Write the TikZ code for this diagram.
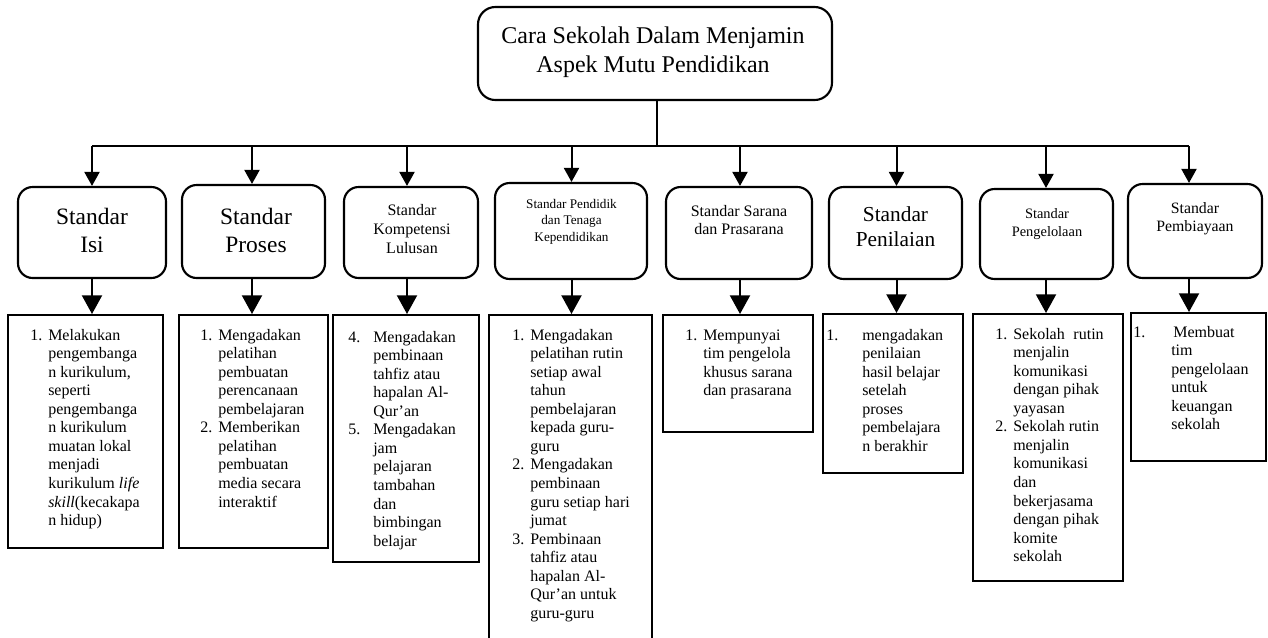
\documentclass[tikz,border=0pt]{standalone}
\usepackage{fontspec}
\setmainfont{Liberation Serif}
\usetikzlibrary{arrows.meta,fit}
\tikzset{
  rbox/.style={draw, line width=1.6pt, rounded corners=11pt, inner sep=0pt},
  lbox/.style={draw, line width=1.5pt, inner sep=0pt},
  conn/.style={line width=1.5pt},
  arrA/.style={conn, -{Triangle[width=11.25pt,length=10.5pt]}},
  arrB/.style={conn, -{Triangle[width=15pt,length=14pt]}},
  body/.style={anchor=base west, inner sep=0pt, font=\fontsize{12}{13.92}\selectfont},
  head/.style={anchor=base, inner sep=0pt},
}
\newcommand{\lst}[2]{\begin{tabular}[t]{@{}p{#1}@{}l@{}}#2\end{tabular}}
\newcommand{\ctr}[1]{\begin{tabular}[t]{@{}c@{}}#1\end{tabular}}
\begin{document}
\begin{tikzpicture}[x=0.75pt,y=-0.75pt]
\useasboundingbox (0,0) rectangle (1268,637);
% top
\node[rbox, rounded corners=13pt, fit={(478,7)(832,100)}] (top) {};
\node[head, font=\fontsize{18}{21.75}\selectfont] (toptxt) at (653,43) {\ctr{Cara Sekolah Dalam Menjamin\\Aspek Mutu Pendidikan}};
% level 1
\node[rbox, fit={(18,187)(166,278)}] (isi) {};
\node[rbox, fit={(182,185)(325,278)}] (proses) {};
\node[rbox, fit={(344,187)(478,278)}] (komp) {};
\node[rbox, fit={(495,183)(647,279)}] (pend) {};
\node[rbox, fit={(666,187)(812,279)}] (sarana) {};
\node[rbox, fit={(829,187)(962,279)}] (nilai) {};
\node[rbox, fit={(980,189)(1113,279)}] (kelola) {};
\node[rbox, fit={(1128,184)(1262,278)}] (biaya) {};
\node[head, font=\fontsize{17.6}{21}\selectfont] (isit) at (92,224) {\ctr{Standar\\Isi}};
\node[head, font=\fontsize{17.6}{21}\selectfont] (prosest) at (256,224) {\ctr{Standar\\Proses}};
\node[head, font=\fontsize{12}{14.25}\selectfont] (kompt) at (412,215) {\ctr{Standar\\Kompetensi\\Lulusan}};
\node[head, font=\fontsize{9.9}{12.4}\selectfont] (pendt) at (571.5,208) {\ctr{Standar Pendidik\\dan Tenaga\\Kependidikan}};
\node[head, font=\fontsize{12}{13.5}\selectfont] (saranat) at (739,216) {\ctr{Standar Sarana\\dan Prasarana}};
\node[head, font=\fontsize{16}{18.75}\selectfont] (nilait) at (895.5,221) {\ctr{Standar\\Penilaian}};
\node[head, font=\fontsize{10.8}{13.5}\selectfont] (kelolat) at (1047,218) {\ctr{Standar\\Pengelolaan}};
\node[head, font=\fontsize{11.85}{13.5}\selectfont] (biayat) at (1195,213) {\ctr{Standar\\Pembiayaan}};
% level 2
\node[lbox, fit={(8,315)(163,548)}] (isiL) {};
\node[lbox, fit={(179,315)(328,548)}] (prosesL) {};
\node[lbox, fit={(333,315)(479,562)}] (kompL) {};
\node[lbox, fit={(489,315)(652,645)}] (pendL) {};
\node[lbox, fit={(663,315)(813,432)}] (saranaL) {};
\node[lbox, fit={(823,314)(963,473)}] (nilaiL) {};
\node[lbox, fit={(973,314)(1123,581)}] (kelolaL) {};
\node[lbox, fit={(1131,313)(1266,461)}] (biayaL) {};
\node[body] (isiLt) at (30,340) {\lst{13.5pt}{1. & Melakukan\\ & pengembanga\\ & n kurikulum,\\ & seperti\\ & pengembanga\\ & n kurikulum\\ & muatan lokal\\ & menjadi\\ & kurikulum \textit{life}\\ & \textit{skill}(kecakapa\\ & n hidup)}};
\node[body] (prosesLt) at (200,340) {\lst{13.5pt}{1. & Mengadakan\\ & pelatihan\\ & pembuatan\\ & perencanaan\\ & pembelajaran\\ 2. & Memberikan\\ & pelatihan\\ & pembuatan\\ & media secara\\ & interaktif}};
\node[body] (kompLt) at (348,342) {\lst{18.75pt}{4. & Mengadakan\\ & pembinaan\\ & tahfiz atau\\ & hapalan Al-\\ & Qur’an\\ 5. & Mengadakan\\ & jam\\ & pelajaran\\ & tambahan\\ & dan\\ & bimbingan\\ & belajar}};
\node[body] (pendLt) at (512,340) {\lst{13.5pt}{1. & Mengadakan\\ & pelatihan rutin\\ & setiap awal\\ & tahun\\ & pembelajaran\\ & kepada guru-\\ & guru\\ 2. & Mengadakan\\ & pembinaan\\ & guru setiap hari\\ & jumat\\ 3. & Pembinaan\\ & tahfiz atau\\ & hapalan Al-\\ & Qur’an untuk\\ & guru-guru}};
\node[body] (saranaLt) at (685,340) {\lst{13.5pt}{1. & Mempunyai\\ & tim pengelola\\ & khusus sarana\\ & dan prasarana}};
\node[body] (nilaiLt) at (826,340) {\lst{27pt}{1. & mengadakan\\ & penilaian\\ & hasil belajar\\ & setelah\\ & proses\\ & pembelajara\\ & n berakhir}};
\node[body] (kelolaLt) at (995,339) {\lst{13.5pt}{1. & Sekolah\hspace{6.5pt}rutin\\ & menjalin\\ & komunikasi\\ & dengan pihak\\ & yayasan\\ 2. & Sekolah rutin\\ & menjalin\\ & komunikasi\\ & dan\\ & bekerjasama\\ & dengan pihak\\ & komite\\ & sekolah}};
\node[body] (biayaLt) at (1133,337) {\lst{28.5pt}{1. & \hspace{1.5pt}Membuat\\ & tim\\ & pengelolaan\\ & untuk\\ & keuangan\\ & sekolah}};
% connectors
\coordinate (bar) at (657,146);
\coordinate (c1) at (92,146);
\coordinate (c2) at (252,146);
\coordinate (c3) at (407,146);
\coordinate (c4) at (571.5,146);
\coordinate (c5) at (740,146);
\coordinate (c6) at (896.5,146);
\coordinate (c7) at (1046,146);
\coordinate (c8) at (1189,146);
\draw[conn] (top.south -| bar) -- (bar);
\draw[conn] (c1) -- (c8);
\draw[arrA] (c1) -- (c1 |- isi.north);
\draw[arrA] (c2) -- (c2 |- proses.north);
\draw[arrA] (c3) -- (c3 |- komp.north);
\draw[arrA] (c4) -- (c4 |- pend.north);
\draw[arrA] (c5) -- (c5 |- sarana.north);
\draw[arrA] (c6) -- (c6 |- nilai.north);
\draw[arrA] (c7) -- (c7 |- kelola.north);
\draw[arrA] (c8) -- (c8 |- biaya.north);
\draw[arrB] (c1 |- isi.south) -- (c1 |- isiL.north);
\draw[arrB] (c2 |- proses.south) -- (c2 |- prosesL.north);
\draw[arrB] (c3 |- komp.south) -- (c3 |- kompL.north);
\draw[arrB] (c4 |- pend.south) -- (c4 |- pendL.north);
\draw[arrB] (c5 |- sarana.south) -- (c5 |- saranaL.north);
\draw[arrB] (c6 |- nilai.south) -- (c6 |- nilaiL.north);
\draw[arrB] (c7 |- kelola.south) -- (c7 |- kelolaL.north);
\draw[arrB] (c8 |- biaya.south) -- (c8 |- biayaL.north);
\end{tikzpicture}
\end{document}
